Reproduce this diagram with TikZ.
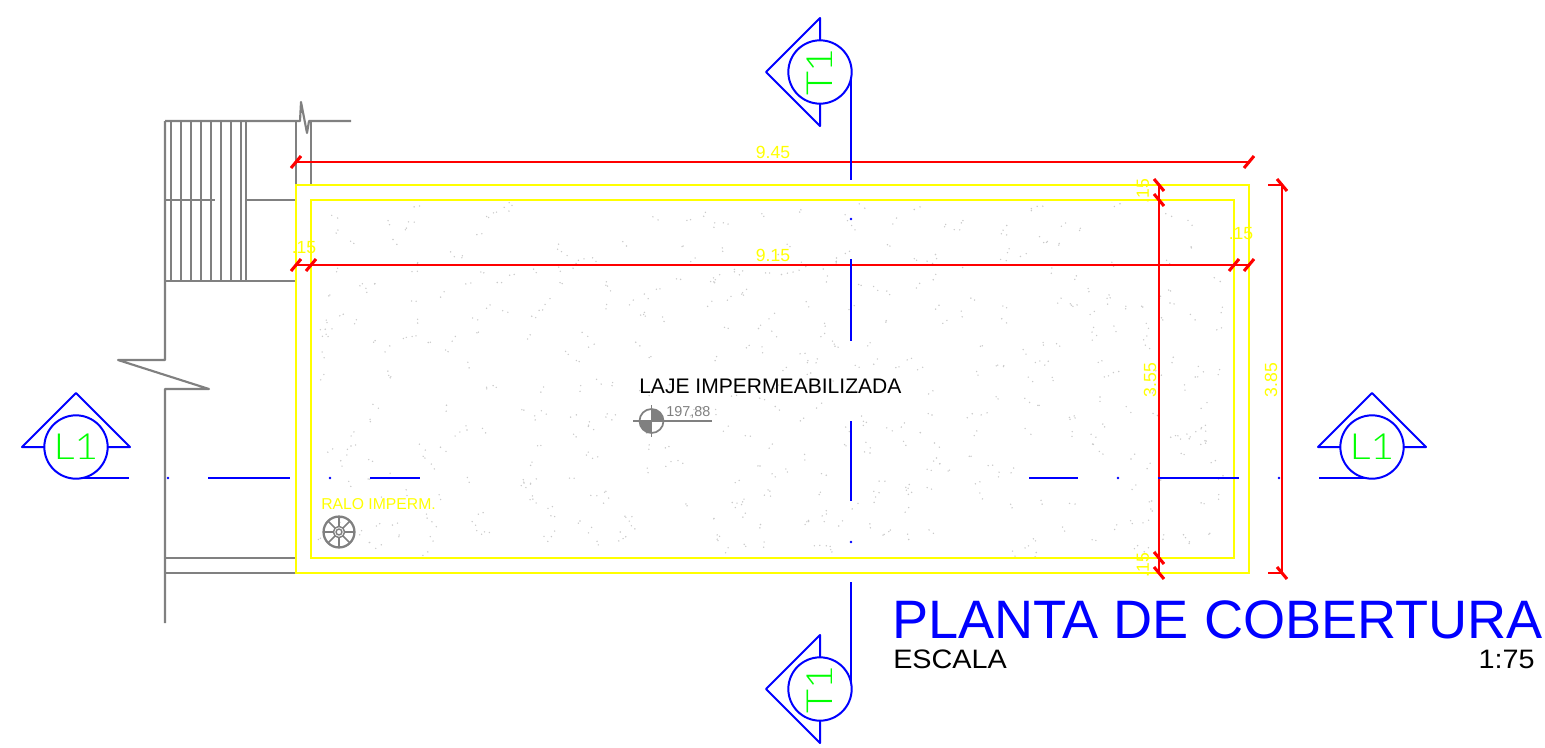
\documentclass[tikz,border=0pt]{standalone}
\usepackage{fontspec}
\setmainfont{Liberation Sans}
\newfontfamily\thinfont{Lato}[UprightFont=* Light,FakeStretch=1.15]
\newfontfamily\widefont{Liberation Sans}[FakeStretch=1.08]
\definecolor{cadgray}{RGB}{128,128,128}
\definecolor{cadblue}{RGB}{0,0,255}
\definecolor{cadred}{RGB}{255,0,0}
\definecolor{cadyellow}{RGB}{255,255,0}
\definecolor{cadgreen}{RGB}{0,255,0}
\definecolor{speck}{RGB}{202,202,202}
\newcommand{\sz}[1]{\fontsize{#1}{#1}\selectfont}
\tikzset{
  x=0.75pt,y=-0.75pt,
  wall/.style={draw=cadgray,line width=1.6pt,line join=round},
  thinwall/.style={draw=cadgray,line width=1.3pt},
  slab/.style={draw=cadyellow,line width=1.6pt},
  dimline/.style={draw=cadred,line width=1.6pt},
  tick/.style={draw=cadred,line width=2.3pt},
  axisline/.style={draw=cadblue,line width=1.5pt,line join=round},
  bubble/.style={circle,draw=cadblue,line width=1.5pt,fill=white,minimum size=47.5pt,inner sep=0pt,text=cadgreen,font=\thinfont\sz{27}},
  dimtext/.style={text=cadyellow,inner sep=0pt,font=\sz{13.2}},
  title/.style={inner sep=0pt,anchor=base west},
}
\begin{document}
\begin{tikzpicture}
\useasboundingbox (0,0) rectangle (1545,747);
% specks of the slab
\pgfmathsetseed{4217}
\foreach \i in {1,...,450}{
  \pgfmathsetmacro{\cx}{318+rnd*910}
  \pgfmathsetmacro{\cy}{205+rnd*348}
  \fill[speck] (\cx,\cy) circle (0.6pt);
  \pgfmathsetmacro{\dx}{\cx+rnd*12-6}
  \pgfmathsetmacro{\dy}{\cy+rnd*12-6}
  \fill[speck] (\dx,\dy) circle (0.6pt);
}
% walls and stairs
\draw[wall] (165,121) -- (300,121) -- (301,102) -- (307,133) -- (309,121) -- (351,121);
\foreach \tx in {170.7,180.7,190.7,200.7,210.7,220.7,230.7,240.7,245.7}
  \draw[thinwall] (\tx,121) -- (\tx,281);
\draw[wall] (296,121) -- (296,185);
\draw[wall] (311,121) -- (311,185);
\draw[thinwall] (165,200) -- (215,200);
\draw[thinwall] (246,200) -- (296,200);
\draw[wall] (165,281) -- (296,281);
\draw[wall] (165,121) -- (165,360) -- (118,360) -- (209,389) -- (165,389) -- (165,623);
\draw[thinwall] (165,558) -- (296,558);
\draw[thinwall] (165,573) -- (296,573);
% slab outlines
\draw[slab] (296,185) rectangle (1249,573);
\draw[slab] (311,200) rectangle (1234,558);
% dimensions
\coordinate (hA) at (296,162); \coordinate (hB) at (1249,162);
\coordinate (iA) at (296,265); \coordinate (iB) at (311,265);
\coordinate (iC) at (1234,265); \coordinate (iD) at (1249,265);
\coordinate (vA) at (1159,185); \coordinate (vB) at (1159,200);
\coordinate (vC) at (1159,558); \coordinate (vD) at (1159,573);
\coordinate (wA) at (1282,185); \coordinate (wB) at (1282,573);
\coordinate (wC) at (1268,185); \coordinate (wD) at (1268,573);
\draw[dimline] (hA) -- (hB);
\draw[dimline] (iA) -- (iD);
\draw[dimline] (vA) -- (vD);
\draw[dimline] (wA) -- (wB);
\draw[dimline,line width=1.2pt] (wC) -- (wA);
\draw[dimline,line width=1.2pt] (wD) -- (wB);
\foreach \p in {hA,hB,iA,iB,iC,iD}
  \draw[tick] ([shift={(-5,6)}]\p) -- ([shift={(5,-6)}]\p);
\foreach \p in {vA,vB,vC,vD,wA,wB}
  \draw[tick] ([shift={(-5,-6)}]\p) -- ([shift={(5,6)}]\p);
\node[dimtext] (d945) at (773,152) {9.45};
\node[dimtext] (d915) at (773,255) {9.15};
\node[dimtext] (d15a) at (304,248) {.15};
\node[dimtext] (d15b) at (1241,234) {.15};
\node[dimtext,rotate=90] (d355) at (1150,380) {3.55};
\node[dimtext,rotate=90] (d385) at (1271,380) {3.85};
\node[dimtext,rotate=90] (d15c) at (1143,191) {.15};
\node[dimtext,rotate=90] (d15d) at (1143,565) {.15};
% section axes
\foreach \a/\b in {72/180,259/341,421/501,582/689}
  \draw[axisline] (851,\a) -- (851,\b);
\foreach \a in {219,542}
  \fill[cadblue] (851,\a) circle (1pt);
\foreach \a/\b in {78/129,208/290,370/420,1029/1078,1158/1239,1319/1372}
  \draw[axisline] (\a,478) -- (\b,478);
\foreach \a in {168,330,1118,1279}
  \fill[cadblue] (\a,478) circle (1pt);
% section bubbles
\draw[axisline] (820,18) -- (766,72) -- (820,126) -- cycle;
\node[bubble,rotate=90] (t1top) at (820,72) {T1};
\draw[axisline] (820,635) -- (766,689) -- (820,743) -- cycle;
\node[bubble,rotate=90] (t1bot) at (820,689) {T1};
\draw[axisline] (22,447) -- (76,393) -- (130,447) -- cycle;
\node[bubble] (l1left) at (76,447) {L1};
\draw[axisline] (1318,447) -- (1372,393) -- (1426,447) -- cycle;
\node[bubble] (l1right) at (1372,447) {L1};
% level mark
\node[inner sep=0pt,font=\sz{15.8},anchor=base west] (laje) at (639,393) {LAJE IMPERMEABILIZADA};
\coordinate (lvC) at (651.5,421);
\fill[cadgray] (lvC) -- (651.5,409) arc[radius=9pt,start angle=90,end angle=0] -- cycle;
\fill[cadgray] (lvC) -- (651.5,433) arc[radius=9pt,start angle=270,end angle=180] -- cycle;
\draw[thinwall] (lvC) circle (9pt);
\draw[thinwall] (651.5,405) -- (651.5,437);
\draw[thinwall] (633,421) -- (712,421);
\node[text=cadgray,inner sep=0pt,font=\sz{10.8},anchor=base west] (cota) at (666,416) {197,88};
% drain
\node[text=cadyellow,inner sep=0pt,font=\sz{11.8},anchor=base west] (ralo) at (321,509) {RALO IMPERM.};
\coordinate (dr) at (339,532);
\draw[cadgray,line width=1.7pt] (dr) circle (11.6pt);
\foreach \an in {0,45,...,315}
  \draw[cadgray,line width=1.1pt] ([shift={(\an:4pt)}]dr) -- ([shift={(\an:11pt)}]dr);
\draw[cadgray,line width=1.1pt] (dr) circle (4.2pt);
\draw[cadgray,line width=1.1pt] (dr) circle (2.2pt);
% title
\node[title,text=cadblue,font=\sz{40.6}] (ptitle) at (892,638) {PLANTA DE COBERTURA};
\node[title,font=\widefont\sz{20}] (esc) at (893,668) {ESCALA};
\node[inner sep=0pt,anchor=base east,font=\widefont\sz{20}] (ratio) at (1535,668) {1:75};
\end{tikzpicture}
\end{document}
